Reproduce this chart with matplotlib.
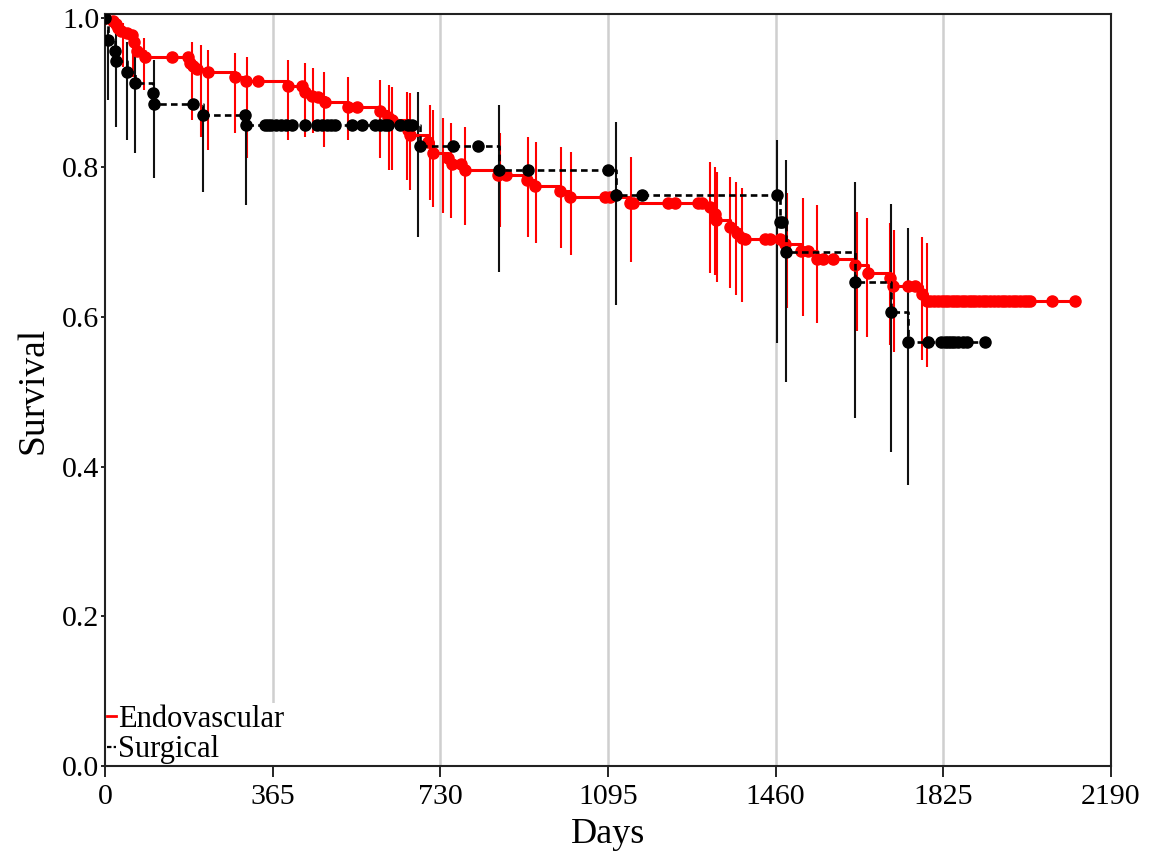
import matplotlib
matplotlib.use('Agg')
import matplotlib.pyplot as plt
from matplotlib.lines import Line2D

plt.rcParams['font.family'] = ['Liberation Serif', 'DejaVu Serif']

# Kaplan-Meier points (days, survival)
endo_days = [0, 18, 23, 29, 35, 47, 58, 64, 69, 87,
             145, 181, 186, 192, 201, 224, 283, 308, 333, 399,
             428, 435, 450, 464, 479, 530, 548, 599, 617, 624,
             660, 664, 704, 715, 747, 755, 776, 784, 856, 874,
             918, 936, 990, 1012, 1088, 1099, 1143, 1150, 1226, 1241,
             1291, 1299, 1317, 1328, 1331, 1360, 1375, 1386, 1393, 1437,
             1448, 1469, 1480, 1516, 1531, 1549, 1564, 1585, 1633, 1662,
             1709, 1716, 1749, 1763, 1778, 1789,
             1796, 1805, 1814, 1822, 1829, 1836, 1844, 1851, 1858, 1866,
             1873, 1880, 1888, 1895, 1903, 1911, 1918, 1926, 1935, 1944,
             1952, 1960, 1968, 1976, 1984, 1992, 2000, 2008, 2013, 2061, 2111]
endo_surv = [1.0, 0.995, 0.991, 0.986, 0.982, 0.979, 0.977, 0.968, 0.955, 0.948,
             0.948, 0.948, 0.940, 0.936, 0.931, 0.927, 0.921, 0.916, 0.916, 0.909,
             0.909, 0.901, 0.896, 0.894, 0.888, 0.881, 0.881, 0.875, 0.868, 0.863,
             0.850, 0.843, 0.834, 0.819, 0.812, 0.805, 0.805, 0.797, 0.790, 0.790,
             0.783, 0.775, 0.768, 0.761, 0.761, 0.761, 0.753, 0.753, 0.753, 0.753,
             0.753, 0.753, 0.747, 0.738, 0.730, 0.721, 0.712, 0.705, 0.704, 0.704,
             0.704, 0.704, 0.698, 0.688, 0.688, 0.678, 0.678, 0.678, 0.669, 0.659,
             0.652, 0.641, 0.641, 0.641, 0.631, 0.622,
             0.622, 0.622, 0.622, 0.622, 0.622, 0.622, 0.622, 0.622, 0.622, 0.622,
             0.622, 0.622, 0.622, 0.622, 0.622, 0.622, 0.622, 0.622, 0.622, 0.622,
             0.622, 0.622, 0.622, 0.622, 0.622, 0.622, 0.622, 0.622, 0.622, 0.622, 0.622]

surg_days = [0, 7, 22, 25, 47, 65, 105, 107, 191, 214, 305, 306,
             348, 355, 362, 373, 384, 395, 406, 435, 461, 472, 483,
             493, 501, 537, 559, 588, 599, 610, 617, 642, 660, 668,
             686, 758, 812, 857, 921, 1096, 1112, 1168,
             1462, 1470, 1473, 1482, 1633, 1711, 1749,
             1792, 1821, 1828, 1835, 1842, 1849, 1856, 1868, 1876, 1916]
surg_surv = [1.0, 0.970, 0.956, 0.942, 0.928, 0.913, 0.899, 0.885, 0.885, 0.870, 0.870, 0.856,
             0.856, 0.856, 0.856, 0.856, 0.856, 0.856, 0.856, 0.856, 0.856, 0.856, 0.856,
             0.856, 0.856, 0.856, 0.856, 0.856, 0.856, 0.856, 0.856, 0.856, 0.856, 0.856,
             0.828, 0.828, 0.828, 0.797, 0.797, 0.797, 0.763, 0.763,
             0.763, 0.727, 0.727, 0.687, 0.647, 0.607, 0.567,
             0.567, 0.567, 0.567, 0.567, 0.567, 0.567, 0.567, 0.567, 0.567, 0.567]

# confidence interval bars
endo_ci_days = [39, 61, 85, 189, 209, 224, 283, 309, 398, 435,
                453, 477, 529, 599, 618, 625, 657, 664, 707, 714,
                736, 753, 784, 860, 921, 938, 993, 1014, 1145, 1317,
                1328, 1332, 1360, 1374, 1387, 1485, 1519, 1550, 1637, 1659,
                1709, 1717, 1778, 1789]
endo_ci_hi = [0.993, 0.984, 0.973, 0.968, 0.964, 0.957, 0.953, 0.948, 0.944, 0.940,
              0.933, 0.928, 0.921, 0.917, 0.910, 0.908, 0.901, 0.900, 0.884, 0.877,
              0.866, 0.859, 0.854, 0.846, 0.841, 0.834, 0.827, 0.821, 0.814, 0.807,
              0.801, 0.794, 0.787, 0.780, 0.772, 0.766, 0.759, 0.750, 0.740, 0.732,
              0.726, 0.716, 0.707, 0.699]
endo_ci_lo = [0.934, 0.921, 0.904, 0.863, 0.841, 0.823, 0.846, 0.813, 0.837, 0.841,
              0.846, 0.827, 0.837, 0.813, 0.796, 0.796, 0.783, 0.770, 0.756, 0.747,
              0.739, 0.732, 0.723, 0.720, 0.707, 0.699, 0.692, 0.683, 0.673, 0.659,
              0.656, 0.647, 0.639, 0.629, 0.620, 0.612, 0.602, 0.592, 0.582, 0.573,
              0.562, 0.553, 0.542, 0.533]

surg_ci_days = [7, 25, 47, 66, 106, 213, 306, 681, 858, 1112, 1463, 1482, 1633, 1711, 1748]
surg_ci_hi = [0.984, 0.980, 0.967, 0.953, 0.944, 0.881, 0.873, 0.901, 0.884, 0.861,
              0.837, 0.810, 0.780, 0.751, 0.719]
surg_ci_lo = [0.890, 0.854, 0.837, 0.819, 0.786, 0.767, 0.750, 0.707, 0.660, 0.616,
              0.565, 0.513, 0.465, 0.419, 0.376]

xticks = [0, 365, 730, 1095, 1460, 1825, 2190]
yticks = [0.0, 0.2, 0.4, 0.6, 0.8, 1.0]

fig = plt.figure(figsize=(11.5, 8.59), dpi=100)
ax = fig.add_axes([105 / 1150, 1 - 766 / 859, 1006 / 1150, 752 / 859])

for x in xticks[1:-1]:
    ax.axvline(x, color='#cfcfcf', lw=1.8, zorder=0)

red = '#ff0000'
ax.vlines(endo_ci_days, endo_ci_lo, endo_ci_hi, color=red, lw=1.5, zorder=2)
ax.vlines(surg_ci_days, surg_ci_lo, surg_ci_hi, color='#111111', lw=1.5, zorder=2.1)
ax.plot(endo_days, endo_surv, drawstyle='steps-post', color=red, lw=2.2,
        marker='o', ms=8, zorder=3)
ax.plot(surg_days, surg_surv, drawstyle='steps-post', color='black', lw=1.9,
        linestyle=(0, (2.5, 1.6)), marker='o', ms=8, zorder=3.1)

ax.set_xlim(0, 2190)
ax.set_ylim(0, 1.005)
ax.set_xticks(xticks)
ax.set_yticks(yticks)
ax.set_xticklabels([str(x) for x in xticks])
ax.set_yticklabels([f'{y:.1f}' for y in yticks])
ax.tick_params(axis='x', length=8, width=1.2, pad=5, labelsize=21.5)
ax.tick_params(axis='y', length=3, width=1.2, pad=1, labelsize=21.5)
for s in ax.spines.values():
    s.set_linewidth(1.5)
    s.set_color('#222222')

ax.set_xlabel('Days', fontsize=26, labelpad=6)
ax.set_ylabel('Survival', fontsize=27, labelpad=8)

handles = [Line2D([], [], color=red, lw=2),
           Line2D([], [], color='black', lw=1.6, linestyle=(0, (2, 1)))]
leg = ax.legend(handles, ['Endovascular', 'Surgical'], loc='lower left',
                bbox_to_anchor=(0, 0), borderaxespad=0.0, borderpad=0.05,
                handlelength=0.32, handletextpad=0.05, labelspacing=0.05,
                fontsize=22, frameon=True, fancybox=False, framealpha=1)
leg.get_frame().set_edgecolor('none')
leg.set_zorder(1)  # above gridlines, below spines

fig.savefig('out.png', dpi=100)
